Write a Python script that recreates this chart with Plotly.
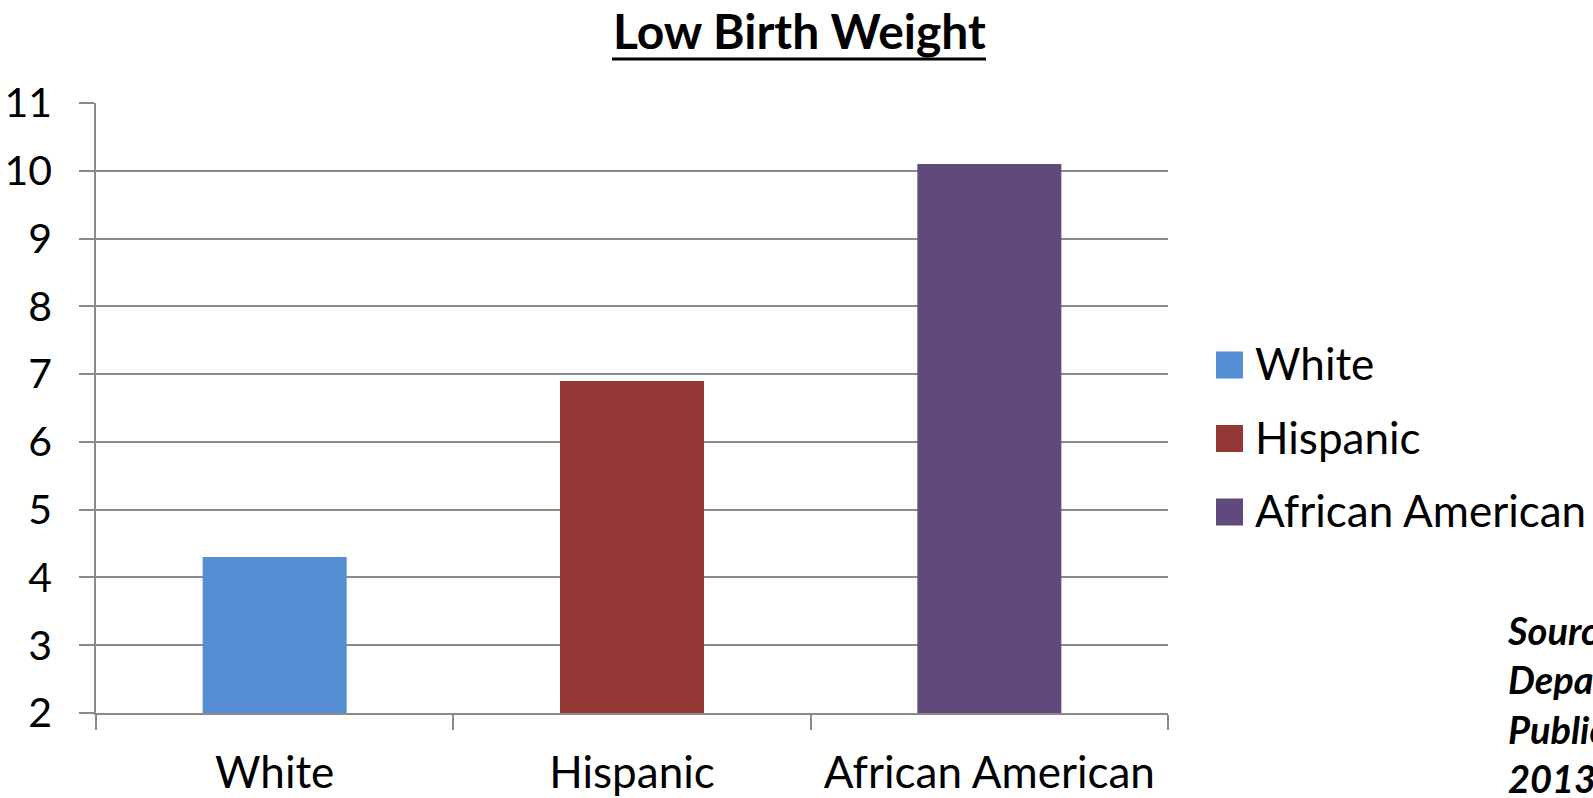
import plotly.graph_objects as go

# Low birth weight rate (%) by race / ethnicity
groups = ["White", "Hispanic", "African American"]
rates = [4.3, 6.9, 10.1]
colors = ["#558ED5", "#953735", "#604A7B"]
y_ticks = [2, 3, 4, 5, 6, 7, 8, 9, 10, 11]

title_text = "Low Birth Weight"
source_lines = ["Source:", "Department of", "Public Health,", "2013"]

W, H = 1593, 798
M_L, M_R, M_T, M_B = 96, 425, 103, 85
PLOT_W = W - M_L - M_R
PLOT_H = H - M_T - M_B

GRID = "#8A8A8A"
FONT = "Lato"


def px_x(px):
    """Convert a page pixel x into paper coordinates."""
    return (px - M_L) / PLOT_W


def px_y(py):
    """Convert a page pixel y into paper coordinates."""
    return (H - M_B - py) / PLOT_H


fig = go.Figure(
    go.Bar(
        x=groups,
        y=rates,
        marker=dict(color=colors, line=dict(width=0)),
        showlegend=False,
        hoverinfo="x+y",
    )
)

fig.update_layout(
    width=W,
    height=H,
    margin=dict(l=M_L, r=M_R, t=M_T, b=M_B, autoexpand=False),
    paper_bgcolor="white",
    plot_bgcolor="white",
    bargap=0.597,
    font=dict(family=FONT, size=40, color="black"),
)

fig.update_yaxes(
    range=[y_ticks[0], y_ticks[-1]],
    tickvals=y_ticks,
    automargin=False,
    showgrid=True,
    gridcolor=GRID,
    gridwidth=1.5,
    zeroline=False,
    showline=True,
    linecolor=GRID,
    linewidth=1.5,
    ticks="outside",
    ticklen=15,
    tickwidth=1.5,
    tickcolor=GRID,
    ticklabelstandoff=19,
    tickfont=dict(family=FONT, size=41, color="black"),
)

fig.update_xaxes(
    type="category",
    tickson="boundaries",
    automargin=False,
    showgrid=False,
    showline=True,
    linecolor=GRID,
    linewidth=1.5,
    ticks="outside",
    ticklen=15,
    tickwidth=1.5,
    tickcolor=GRID,
    ticklabelstandoff=20,
    tickfont=dict(family=FONT, size=44, color="black"),
)

shapes = []
annotations = []

# Title with a thick underline
TITLE_SIZE = 48
annotations.append(dict(
    text=f"<b>{title_text}</b>",
    xref="paper", yref="paper",
    x=px_x(799), y=px_y(0),
    xanchor="center", yanchor="top",
    showarrow=False,
    font=dict(family=FONT, size=TITLE_SIZE, color="black"),
))
shapes.append(dict(
    type="line", xref="paper", yref="paper",
    x0=px_x(612), x1=px_x(986), y0=px_y(59), y1=px_y(59),
    line=dict(color="black", width=3),
))

# Legend: square swatches with labels
leg_top = 365
leg_step = 73.5
sw = 27
for i, (g, c) in enumerate(zip(groups, colors)):
    cy = leg_top + i * leg_step
    shapes.append(dict(
        type="rect", xref="paper", yref="paper",
        x0=px_x(1216), x1=px_x(1216 + sw),
        y0=px_y(cy - sw / 2), y1=px_y(cy + sw / 2),
        fillcolor=c, line=dict(width=0),
    ))
    annotations.append(dict(
        text=g,
        xref="paper", yref="paper",
        x=px_x(1253), y=px_y(cy - 2),
        xanchor="left", yanchor="middle",
        showarrow=False,
        font=dict(family=FONT, size=44, color="black"),
    ))

# Source note, running off the right edge
annotations.append(dict(
    text="<br>".join(f"<b><i>{s}</i></b>" for s in source_lines),
    xref="paper", yref="paper",
    x=px_x(1505), y=px_y(605),
    xanchor="left", yanchor="top",
    align="left",
    showarrow=False,
    font=dict(family=FONT, size=38, color="black"),
))

fig.update_layout(shapes=shapes, annotations=annotations)

fig.write_html("out.html")
